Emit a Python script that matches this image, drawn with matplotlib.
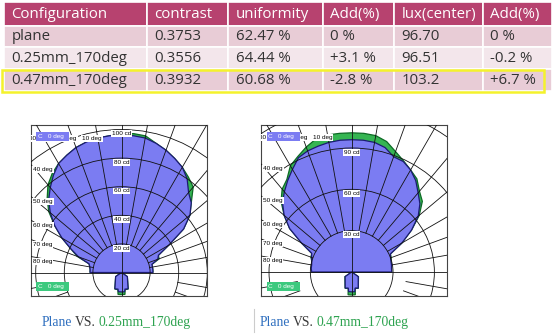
import matplotlib
matplotlib.use("Agg")
import matplotlib.pyplot as plt
import numpy as np
from matplotlib.patches import Rectangle, Circle, Polygon

W, H = 554, 335

# ---------------- data ----------------
columns = ["Configuration", "contrast", "uniformity", "Add(%)", "lux(center)", "Add(%)"]
configs = ["plane", "0.25mm_170deg", "0.47mm_170deg"]
contrast = ["0.3753", "0.3556", "0.3932"]
uniformity = ["62.47 %", "64.44 %", "60.68 %"]
uniformity_add = ["0 %", "+3.1 %", "-2.8 %"]
lux_center = ["96.70", "96.51", "103.2"]
lux_add = ["0 %", "-0.2 %", "+6.7 %"]

# luminous intensity (cd) vs gamma angle (deg, 0 = up, + = right)
gamma_front = list(range(-90, 95, 5))
gamma_back = [95, 125, 158, 168, 171, 180]

left_plane_front = [22, 22, 22.5, 23.5, 32, 39, 48, 57, 65, 72, 77.5, 83, 88, 90.5, 93, 94.5, 95.5, 96,
                    96, 96, 95.5, 93.5, 91, 88, 85, 80, 73, 69, 62.5, 53, 38, 28.5, 27, 22, 22, 22, 22]
left_plane_back = [0, 5, 12.3, 11.9, 13.6, 13.6]
left_025_front = [22, 22, 22.5, 23.5, 33, 39, 48, 57, 66.5, 73.5, 80, 84.5, 88, 90.5, 93, 94.5, 95.5, 96,
                  97, 97.5, 97, 93.5, 91, 88, 85, 81.5, 78, 69, 62.5, 53, 38, 28.5, 28, 22, 22, 22, 22]
left_025_back = [0, 5, 12.5, 12.2, 15.5, 15.5]

right_plane_front = [29, 29.5, 29.5, 30, 31, 32, 42, 55, 64, 71, 76, 81, 86, 91.5, 93.5, 94.5, 95.5, 96,
                     96, 96, 95.5, 93.5, 89, 88.5, 85.5, 81, 75, 70, 63, 53, 42, 31, 30, 29.5, 29.3, 29, 29]
right_plane_back = [0, 5.8, 12.6, 11.9, 14.4, 14.4]
right_047_front = [29, 29.5, 29.5, 30, 31.5, 32, 42, 55, 64, 72.5, 78.5, 82, 89, 92.5, 96.5, 100, 101, 101,
                   101, 101, 100.5, 98, 93, 89, 85.5, 82.5, 76.5, 72.5, 64, 53, 42, 31, 30.5, 29.5, 29.3, 29, 29]
right_047_back = [0, 6, 12.8, 12.1, 16.7, 16.7]

left_rings = [20, 40, 60, 80, 100]
right_rings = [30, 60, 90, 120]
angle_labels = [10, 20, 30, 40, 50, 60, 70, 80]

BLUE_FILL = "#7b7cf2"
BLUE_EDGE = "#1c1a72"
GREEN_FILL = "#35b552"
GREEN_EDGE = "#0d6a25"
LEG_GREEN = "#3cc97e"

fig = plt.figure(figsize=(W / 100, H / 100), dpi=100)

# overlay axes in pixel units (table + captions)
ov = fig.add_axes([0, 0, 1, 1])
ov.set_xlim(0, W)
ov.set_ylim(H, 0)
ov.axis("off")

col_x = [4, 147, 228, 323, 394, 483, 552]
row_y = [2, 26, 47, 69, 91]
row_colors = ["#b7426f", "#e8ccd6", "#f3e6eb", "#e8ccd6"]
rows = [columns] + [list(r) for r in zip(configs, contrast, uniformity, uniformity_add, lux_center, lux_add)]
for i, row in enumerate(rows):
    for j, txt in enumerate(row):
        ov.add_patch(Rectangle((col_x[j], row_y[i]), col_x[j + 1] - col_x[j], row_y[i + 1] - row_y[i],
                               facecolor=row_colors[i], edgecolor="white", lw=1.2))
        ov.text(col_x[j] + 7.5, (row_y[i] + row_y[i + 1]) / 2 + 0.5, txt,
                color="white" if i == 0 else "#333333", fontsize=10.8, family="Open Sans",
                ha="left", va="center")
ov.add_patch(Rectangle((2, 70), 542, 22, fill=False, edgecolor="#f4f22c", lw=1.8))


def panel(box, center, scale, rings, front_a, back_a, front_b, back_b, lower_start):
    x0, y0, x1, y1 = box
    cx, cy = center
    ax = fig.add_axes([x0 / W, 1 - y1 / H, (x1 - x0) / W, (y1 - y0) / H])
    ax.set_xlim((x0 - cx) / scale, (x1 - cx) / scale)
    ax.set_ylim((cy - y1) / scale, (cy - y0) / scale)
    ax.set_xticks([])
    ax.set_yticks([])
    for s in ax.spines.values():
        s.set_color("#444444")
        s.set_linewidth(0.8)

    g = np.array([-a for a in gamma_back[::-1]] + gamma_front + gamma_back, float)
    for fr, bk, fc, ec, z in [(front_b, back_b, GREEN_FILL, GREEN_EDGE, 1),
                              (front_a, back_a, BLUE_FILL, BLUE_EDGE, 2)]:
        v = np.array(bk[::-1] + fr + bk, float)
        xs = v * np.sin(np.radians(g))
        ys = v * np.cos(np.radians(g))
        ax.add_patch(Polygon(np.column_stack([xs, ys]), closed=True, facecolor=fc,
                             edgecolor=ec, lw=0.9, zorder=z))

    far = 400
    lc = "#111111"
    lw = 0.6
    for r in rings:
        ax.add_patch(Circle((0, 0), r, fill=False, edgecolor=lc, lw=lw, zorder=3))
    for a in range(-80, 90, 10):
        if a == 0:
            continue
        t = np.radians(a)
        ax.plot([rings[0] * np.sin(t), far * np.sin(t)], [rings[0] * np.cos(t), far * np.cos(t)],
                color=lc, lw=lw, zorder=3)
    for a in list(range(100, 180, 10)) + list(range(-170, -90, 10)):
        t = np.radians(a)
        ax.plot([lower_start * np.sin(t), far * np.sin(t)], [lower_start * np.cos(t), far * np.cos(t)],
                color=lc, lw=lw, zorder=3)
    ax.plot([0, 0], [-far, far], color=lc, lw=lw, zorder=3)
    ax.plot([-far, far], [0, 0], color=lc, lw=lw, zorder=3)

    xl, xr = ax.get_xlim()
    yb, yt = ax.get_ylim()
    lab_kw = dict(fontsize=4.6, family="Liberation Sans", color="black", zorder=5, clip_on=True,
                  bbox=dict(boxstyle="square,pad=0.15", fc="white", ec="none"))
    for r in rings:
        if r < yt:
            ax.text(0, r - 3, f"{r} cd", ha="center", va="center", **lab_kw)
    for a in angle_labels:
        t = np.radians(a)
        y_exit = -xl / np.tan(t)
        if y_exit <= yt:
            ax.text(xl + 1.5, y_exit - 3.5, f"{a} deg", ha="left", va="center", **lab_kw)
        else:
            yy = yt - 9.3
            ax.text(-yy * np.tan(t) - 4, yy, f"{a} deg", ha="center", va="center", **lab_kw)

    leg_kw = dict(fontsize=4.6, family="Liberation Sans", color="white", zorder=6,
                  ha="left", va="center", transform=ax.transAxes)
    px = (37.5 - x0) / (x1 - x0) if x0 < 100 else (268.5 - x0) / (x1 - x0)
    ax.text(px, (y1 - 136.7) / (y1 - y0), "C   0 deg  ",
            bbox=dict(boxstyle="square,pad=0.3", fc=BLUE_FILL, ec="none"), **leg_kw)
    ax.text(px, (y1 - 286.7) / (y1 - y0), "C   0 deg  ",
            bbox=dict(boxstyle="square,pad=0.3", fc=LEG_GREEN, ec="none"), **leg_kw)
    return ax


panel((31, 125, 207, 296), (121.5, 272.5), 1.43, left_rings,
      left_plane_front, left_plane_back, left_025_front, left_025_back, 40)
panel((261, 125, 447, 296), (351.7, 272.0), 1.378, right_rings,
      right_plane_front, right_plane_back, right_047_front, right_047_back, 40)

# captions
renderer = fig.canvas.get_renderer()


def colored(x, y, parts):
    for txt, col in parts:
        t = ov.text(x, y, txt, color=col, fontsize=9.8, family="Liberation Serif", ha="left", va="center")
        bb = t.get_window_extent(renderer=renderer)
        x += bb.width + 3


colored(41.5, 322.5, [("Plane", "#2f6fbf"), ("VS.", "#3a3a3a"), ("0.25mm_170deg", "#2ea350")])
colored(259.5, 322.5, [("Plane", "#2f6fbf"), ("VS.", "#3a3a3a"), ("0.47mm_170deg", "#2ea350")])
ov.plot([254, 254], [309, 332], color="#cccccc", lw=0.8)

fig.savefig("out.png", dpi=100)
